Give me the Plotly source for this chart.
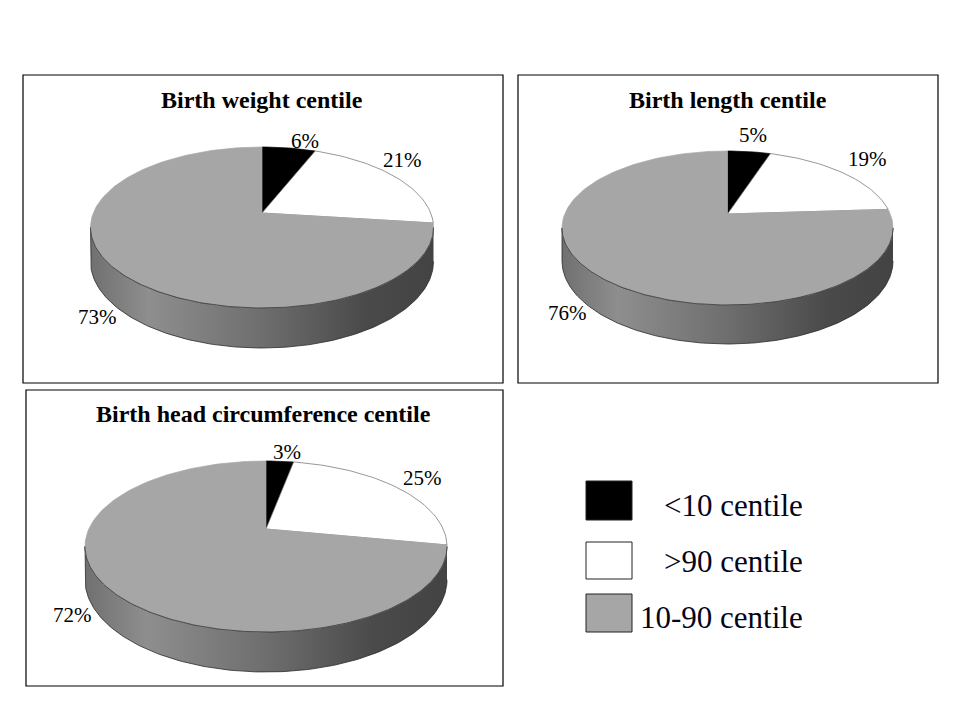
import math
import plotly.graph_objects as go

# ------------------------------------------------------------
# DATA
# ------------------------------------------------------------

titles = ["Birth weight centile", "Birth length centile", "Birth head circumference centile"]
categories = ["<10 centile", ">90 centile", "10-90 centile"]
below_10 = [6, 5, 3]
above_90 = [21, 19, 25]
middle = [73, 76, 72]

slice_colors = ["#000000", "#ffffff", "#a6a6a6"]

# ------------------------------------------------------------
# LAYOUT (page pixels, y going down)
# ------------------------------------------------------------

# box = panel frame, cx/cy = pie apex, top/bottom = radius of the top face
# above/below the apex, half = half width, depth = thickness at the front
panels = [
    dict(box=(23, 75, 503, 383), cx=262, cy=213, top=66, bottom=95, half=171.5,
         depth=40, title_xy=(262, 100)),
    dict(box=(518, 75, 938, 383), cx=727.5, cy=214, top=63, bottom=91, half=165.5,
         depth=39, title_xy=(728, 100)),
    dict(box=(26, 390, 503, 686), cx=266, cy=529, top=68, bottom=103, half=181,
         depth=40, title_xy=(263, 414)),
]
# small moves of the percentage labels, per panel / per slice
label_nudge = [
    [(13, 0), (-7, -13), (-1, 0)],
    [(2, -10), (12, -10), (-13, -10)],
    [(6, -3), (11, -5), (-14, -20)],
]

legend_box_x = (586, 632)
legend_box_y = [(481, 520), (542, 579), (594, 632)]
legend_text_x = 805
legend_text_y = [505, 561, 617]

# the page body has an 8px margin, shift the axes so page pixels line up
PAGE_OFFSET = 8

SERIF = "Liberation Serif, Times New Roman, serif"

side_scale = [[0, "#707070"], [0.17, "#8e8e8e"], [0.5, "#6e6e6e"],
              [0.8, "#4a4a4a"], [1, "#434343"]]


def geometry(p):
    k = (p["bottom"] - p["top"]) / (p["bottom"] + p["top"])
    B = p["top"] * (1 + k)
    A = p["half"] * math.sqrt(1 - k * k)
    D = p["depth"] * (1 - k)
    return k, A, B, D


def project(p, r, phi):
    # perspective view of a flat disc, phi measured clockwise from the back
    k, A, B, D = geometry(p)
    X, Z = r * math.sin(phi), r * math.cos(phi)
    d = 1 + k * Z
    return p["cx"] + A * X / d, p["cy"] - B * Z / d, D / d, Z


fig = go.Figure()
annotations = []
shapes = []

for i, p in enumerate(panels):
    values = [below_10[i], above_90[i], middle[i]]
    total = sum(values)
    k, A, B, D = geometry(p)

    # panel frame
    x0, y0, x1, y1 = p["box"]
    shapes.append(dict(type="rect", x0=x0, y0=y0, x1=x1, y1=y1,
                       line=dict(color="black", width=1.2), layer="below"))

    # side wall (front half of the disc)
    phi_r = math.acos(-k)
    phi_l = 2 * math.pi - phi_r
    n = 160
    top_pts = [project(p, 1, phi_r + (phi_l - phi_r) * j / n) for j in range(n + 1)]
    sx = [t[0] for t in top_pts] + [t[0] for t in reversed(top_pts)]
    sy = [t[1] for t in top_pts] + [t[1] + t[2] for t in reversed(top_pts)]
    fig.add_trace(go.Scatter(
        x=sx, y=sy, mode="lines", fill="toself",
        fillcolor="#6e6e6e",
        fillgradient=dict(type="horizontal", colorscale=side_scale),
        line=dict(color="#2a2a2a", width=0.8),
        hoverinfo="skip", showlegend=False,
    ))

    # top face slices
    start = 0.0
    for j, v in enumerate(values):
        a0 = 2 * math.pi * start / total
        a1 = 2 * math.pi * (start + v) / total
        m = max(4, int(200 * v / total))
        arc = [project(p, 1, a0 + (a1 - a0) * t / m) for t in range(m + 1)]
        xs = [p["cx"]] + [a[0] for a in arc] + [p["cx"]]
        ys = [p["cy"]] + [a[1] for a in arc] + [p["cy"]]
        fig.add_trace(go.Scatter(
            x=xs, y=ys, mode="lines", fill="toself",
            fillcolor=slice_colors[j],
            line=dict(color="#6a6a6a" if j == 1 else slice_colors[j], width=0.7),
            hoverinfo="skip", showlegend=False,
        ))

        # percentage label just outside the slice
        mid = (a0 + a1) / 2
        lx, ly, dd, Z = project(p, 1.12, mid)
        if Z < 0:
            ly += dd
        nx, ny = label_nudge[i][j]
        annotations.append(dict(
            x=lx + nx, y=ly + ny, text=f"{v}%", showarrow=False,
            xanchor="center", yanchor="middle",
            font=dict(family=SERIF, size=21, color="black"),
        ))
        start += v

    # edge line between top face and wall
    fig.add_trace(go.Scatter(
        x=[t[0] for t in top_pts], y=[t[1] for t in top_pts], mode="lines",
        line=dict(color="#3a3a3a", width=0.8),
        hoverinfo="skip", showlegend=False,
    ))

    annotations.append(dict(
        x=p["title_xy"][0], y=p["title_xy"][1], text=f"<b>{titles[i]}</b>",
        showarrow=False, xanchor="center", yanchor="middle",
        font=dict(family=SERIF, size=24, color="black"),
    ))

# legend drawn by hand (big square swatches)
for j, name in enumerate(categories):
    shapes.append(dict(type="rect", x0=legend_box_x[0], x1=legend_box_x[1],
                       y0=legend_box_y[j][0], y1=legend_box_y[j][1],
                       fillcolor=slice_colors[j],
                       line=dict(color="#222222", width=1)))
    annotations.append(dict(
        x=legend_text_x, y=legend_text_y[j], text=name.replace("<", "&lt;").replace(">", "&gt;"),
        showarrow=False, xanchor="right", yanchor="middle",
        font=dict(family=SERIF, size=31, color="#05051a"),
    ))

fig.update_layout(
    width=960, height=720,
    margin=dict(l=0, r=0, t=0, b=0),
    plot_bgcolor="white", paper_bgcolor="white",
    xaxis=dict(range=[PAGE_OFFSET, 960 + PAGE_OFFSET], visible=False, fixedrange=True),
    yaxis=dict(range=[720 + PAGE_OFFSET, PAGE_OFFSET], visible=False, fixedrange=True),
    shapes=shapes,
    annotations=annotations,
    showlegend=False,
)

fig.write_html("out.html")
